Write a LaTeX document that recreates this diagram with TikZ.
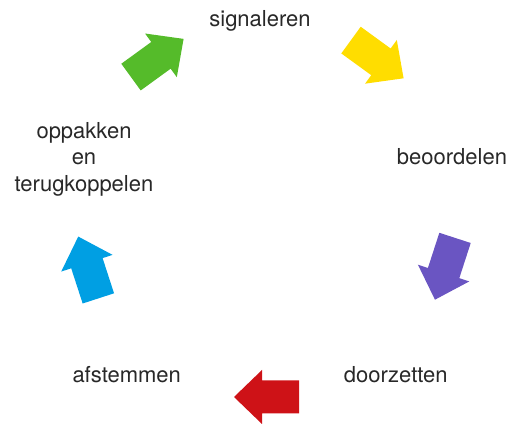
\documentclass[tikz,border=0pt]{standalone}
\usepackage{fontspec}
\setmainfont{TeX Gyre Heros}
\definecolor{cgreen}{RGB}{85,187,42}
\definecolor{cyellow}{RGB}{255,221,0}
\definecolor{cpurple}{RGB}{106,85,194}
\definecolor{cred}{RGB}{206,18,23}
\definecolor{cblue}{RGB}{0,159,227}
\definecolor{ctext}{RGB}{40,40,40}
\tikzset{
  lbl/.style={font=\fontsize{22}{26.7}\selectfont, text=ctext, inner sep=0pt, anchor=base, align=center},
}
\newcommand\cyclearrow[3]{%
  \begin{scope}[shift={#1}, rotate=#2]
    \fill[#3] (-32.5,-16.5) -- (4.5,-16.5) -- (4.5,-27) -- (32.5,0) -- (4.5,27) -- (4.5,16.5) -- (-32.5,16.5) -- cycle;
  \end{scope}}
\begin{document}
\begin{tikzpicture}[x=1pt,y=1pt]
\useasboundingbox (0,0) rectangle (509,425);
\node[lbl] (sig) at (260,398.3) {signaleren};
\node[lbl] (beo) at (452,260) {beoordelen};
\node[lbl] (opp) at (84,233.3) {oppakken\\en\\terugkoppelen};
\node[lbl] (afs) at (126.7,42.7) {afstemmen};
\node[lbl] (doo) at (395.8,42.7) {doorzetten};
\cyclearrow{(266.5,28)}{180}{cred}
\cyclearrow{(445,156.2)}{-108}{cpurple}
\cyclearrow{(377.3,365.8)}{-36}{cyellow}
\cyclearrow{(157.3,367)}{36}{cgreen}
\cyclearrow{(88.3,157.5)}{108}{cblue}
\end{tikzpicture}
\end{document}
